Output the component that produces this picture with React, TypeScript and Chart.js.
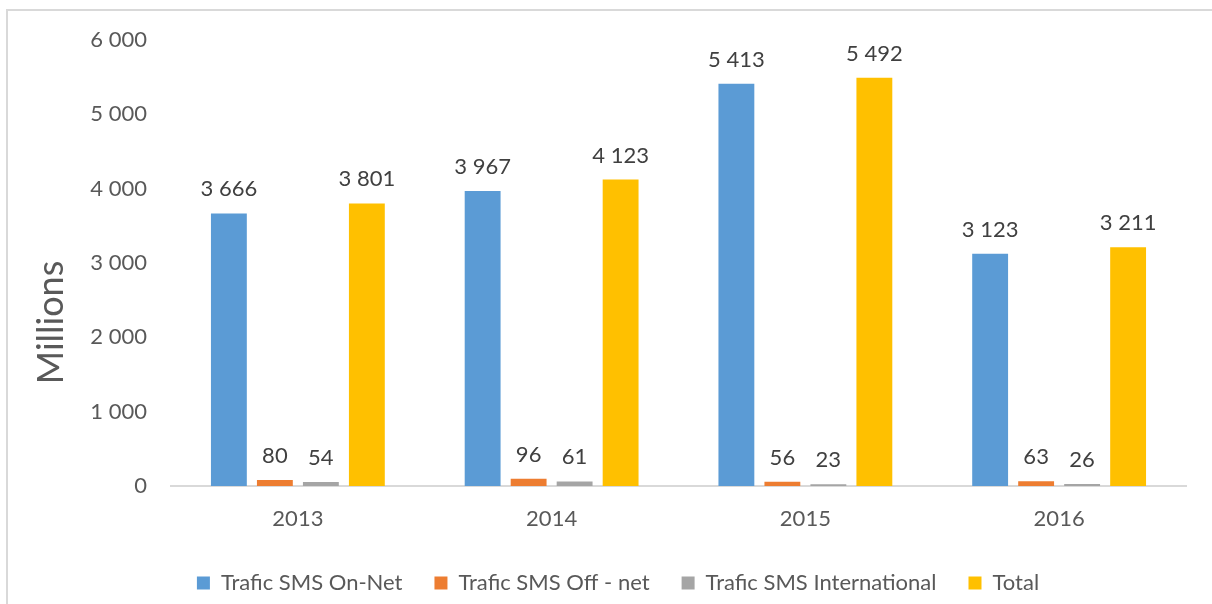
import React, { useEffect, useRef } from "react";
import { Chart, registerables } from "chart.js";

Chart.register(...registerables);

const categories = ["2013", "2014", "2015", "2016"];
const onNet = [3666, 3967, 5413, 3123];
const offNet = [80, 96, 56, 63];
const international = [54, 61, 23, 26];
const total = [3801, 4123, 5492, 3211];
const seriesNames = ["Trafic SMS On-Net", "Trafic SMS Off - net", "Trafic SMS International", "Total"];
const seriesColors = ["#5B9BD5", "#ED7D31", "#A5A5A5", "#FFC000"];
const yTitle = "Millions";

const FONT = "Lato, 'Open Sans', sans-serif";

const fmt = (v: number) => {
  const s = Math.round(v).toString();
  return s.replace(/\B(?=(\d{3})+(?!\d))/g, " ");
};

const borderPlugin = {
  id: "frameBorder",
  beforeDraw(chart: any) {
    const ctx = chart.ctx;
    ctx.save();
    ctx.fillStyle = "#ffffff";
    ctx.fillRect(0, 0, chart.width, chart.height);
    ctx.strokeStyle = "#d9d9d9";
    ctx.lineWidth = 2;
    ctx.strokeRect(7, 10, chart.width + 10, chart.height + 10);
    ctx.restore();
  },
};

const yTitlePlugin = {
  id: "yTitle",
  afterDraw(chart: any) {
    const ctx = chart.ctx;
    const y = chart.scales.y;
    ctx.save();
    ctx.translate(51, y.getPixelForValue(2200));
    ctx.rotate(-Math.PI / 2);
    ctx.font = `36px ${FONT}`;
    ctx.fillStyle = "#595959";
    ctx.textAlign = "center";
    ctx.textBaseline = "middle";
    ctx.fillText(yTitle, 0, 0);
    ctx.restore();
  },
};

const valueLabelPlugin = {
  id: "valueLabels",
  afterDatasetsDraw(chart: any) {
    const ctx = chart.ctx;
    ctx.save();
    ctx.font = `22px ${FONT}`;
    ctx.fillStyle = "#404040";
    ctx.textAlign = "center";
    ctx.textBaseline = "alphabetic";
    chart.data.datasets.forEach((ds: any, i: number) => {
      const meta = chart.getDatasetMeta(i);
      meta.data.forEach((bar: any, j: number) => {
        ctx.fillText(fmt(ds.data[j]), bar.x, bar.y - 17);
      });
    });
    ctx.restore();
  },
};

export default function App() {
  const ref = useRef<HTMLCanvasElement>(null);
  useEffect(() => {
    if (!ref.current) return;
    const datasets = [onNet, offNet, international, total].map((d, i) => ({
      label: seriesNames[i],
      data: d,
      backgroundColor: seriesColors[i],
      borderWidth: 0,
      barPercentage: 0.78,
      categoryPercentage: 0.725,
    }));
    const chart = new Chart(ref.current, {
      type: "bar",
      data: { labels: categories, datasets },
      options: {
        animation: false,
        responsive: false,
        devicePixelRatio: 1,
        layout: { padding: { left: 50, right: 26, top: 40, bottom: 0 } },
        plugins: {
          legend: {
            position: "bottom",
            labels: {
              boxWidth: 13,
              boxHeight: 13,
              color: "#595959",
              font: { size: 22, family: FONT },
              padding: 32,
            },
          },
          tooltip: { enabled: false },
        },
        scales: {
          x: {
            grid: { display: false, drawTicks: false },
            border: { display: true, color: "#d9d9d9", width: 2 },
            ticks: { color: "#595959", font: { size: 22, family: FONT }, padding: 20 },
            afterFit: (s: any) => {
              s.height = 54;
            },
          },
          y: {
            min: 0,
            max: 6000,
            grid: { display: false, drawTicks: false },
            border: { display: false },
            ticks: {
              stepSize: 1000,
              color: "#595959",
              font: { size: 22, family: FONT },
              padding: 24,
              callback: (v: any) => fmt(Number(v)),
            },
            title: { display: false },
            afterFit: (s: any) => {
              s.width = 121;
            },
          },
        },
      },
      plugins: [borderPlugin, valueLabelPlugin, yTitlePlugin],
    });
    return () => chart.destroy();
  }, []);
  return (
    <div style={{ position: "fixed", left: 0, top: 0, width: 1212, height: 604 }}>
      <canvas ref={ref} width={1212} height={604} style={{ display: "block" }} />
    </div>
  );
}
